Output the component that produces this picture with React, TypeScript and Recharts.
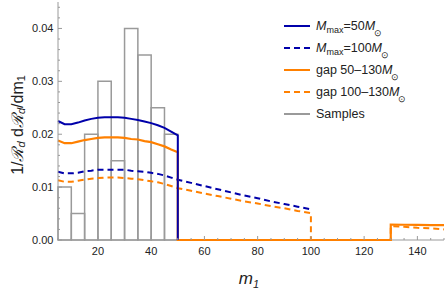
import React from 'react';
import { LineChart, Line, XAxis, YAxis, ReferenceArea, ReferenceLine, Legend } from 'recharts';

// ---- data ----
const massLow = [5, 7.5, 10, 12.5, 15, 17.5, 20, 22.5, 25, 27.5, 30, 32.5, 35, 37.5, 40, 42.5, 45, 47.5, 50];
const mmax50 = [0.0225, 0.0219, 0.0219, 0.0222, 0.0226, 0.0229, 0.0231, 0.0232, 0.0232, 0.0232, 0.0231, 0.0229, 0.0227, 0.0224, 0.0221, 0.0217, 0.0212, 0.0205, 0.0198];
const gap50130Low = [0.0188, 0.0183, 0.0183, 0.0186, 0.0189, 0.0191, 0.0193, 0.0194, 0.0194, 0.0194, 0.0193, 0.0191, 0.019, 0.0187, 0.0185, 0.0181, 0.0177, 0.0171, 0.0166];
const mmax100Low = [0.0129, 0.0126, 0.0126, 0.0127, 0.013, 0.0131, 0.0133, 0.0133, 0.0133, 0.0133, 0.0133, 0.0131, 0.013, 0.0129, 0.0127, 0.0125, 0.0122, 0.0118, 0.0114];
const gap100130Low = [0.0113, 0.011, 0.011, 0.0112, 0.0114, 0.0116, 0.0117, 0.0118, 0.0118, 0.0118, 0.0117, 0.0116, 0.0115, 0.0113, 0.0111, 0.0109, 0.0106, 0.0102, 0.0098];
const massMid = [55, 60, 65, 70, 75, 80, 85, 90, 95, 100];
const mmax100Mid = [0.0108, 0.0102, 0.0096, 0.009, 0.0084, 0.0079, 0.0073, 0.0068, 0.0063, 0.0058];
const gap100130Mid = [0.0093, 0.0088, 0.0083, 0.0078, 0.0073, 0.0069, 0.0064, 0.006, 0.0055, 0.0051];
const massHigh = [130, 135, 140, 145, 150];
const gap50130High = [0.0029, 0.00288, 0.00285, 0.00282, 0.0028];
const gap100130High = [0.0026, 0.0025, 0.0023, 0.0022, 0.002];
const cutMmax50 = 50;
const gapLow1 = 50;
const gapLow2 = 100;
const gapHigh = 130;
const binEdges = [5, 10, 15, 20, 25, 30, 35, 40, 45, 50];
const binHeights = [0.01, 0.005, 0.02, 0.03, 0.015, 0.04, 0.035, 0.025, 0.02];
const xTicks = [5, 10, 15, 20, 25, 30, 35, 40, 45, 50, 55, 60, 65, 70, 75, 80, 85, 90, 95, 100, 105, 110, 115, 120, 125, 130, 135, 140, 145, 150];
const yTicks = [0, 0.002, 0.004, 0.006, 0.008, 0.01, 0.012, 0.014, 0.016, 0.018, 0.02, 0.022, 0.024, 0.026, 0.028, 0.03, 0.032, 0.034, 0.036, 0.038, 0.04, 0.042, 0.044];

const pts = (ms: number[], vs: number[]) => ms.map((m, i) => ({ m, v: vs[i] }));

const sMmax50 = [...pts(massLow, mmax50), { m: cutMmax50, v: 0 }];
const sMmax100 = [...pts(massLow, mmax100Low), ...pts(massMid, mmax100Mid)];
const sGap50 = [...pts(massLow, gap50130Low), { m: gapLow1, v: 0 }, { m: gapHigh, v: 0 }, ...pts(massHigh, gap50130High)];
const sGap100 = [...pts(massLow, gap100130Low), ...pts(massMid, gap100130Mid), { m: gapLow2, v: 0 }, { m: gapHigh, v: 0 }, ...pts(massHigh, gap100130High)];

const BLUE = '#0000aa';
const ORANGE = '#ff8000';
const GRAY = '#9a9a9a';
const FRAME = '#9a9a9a';
const FONT = 'Liberation Sans, Arial, sans-serif';
const TEXT = '#222';

const isMajorX = (v: number) => v % 20 === 0;
const isMajorY = (v: number) => Math.abs(v * 100 - Math.round(v * 100)) < 1e-6;

const BottomTick = (p: any) => {
  const v = p.payload.value;
  const major = isMajorX(v);
  return (
    <g>
      <line x1={p.x} x2={p.x} y1={p.y} y2={p.y - (major ? 4 : 2)} stroke={FRAME} />
      {major && (
        <text x={p.x} y={p.y + 15} textAnchor="middle" fontSize={11} fontFamily={FONT} fill={TEXT}>
          {v}
        </text>
      )}
    </g>
  );
};
const TopTick = (p: any) => {
  const major = isMajorX(p.payload.value);
  return <line x1={p.x} x2={p.x} y1={p.y} y2={p.y + (major ? 4 : 2)} stroke={FRAME} />;
};
const LeftTick = (p: any) => {
  const v = p.payload.value;
  const major = isMajorY(v);
  return (
    <g>
      <line x1={p.x} x2={p.x + (major ? 4 : 2)} y1={p.y} y2={p.y} stroke={FRAME} />
      {major && (
        <text x={p.x - 4.5} y={p.y + 4} textAnchor="end" fontSize={11} fontFamily={FONT} fill={TEXT}>
          {v.toFixed(2)}
        </text>
      )}
    </g>
  );
};
const RightTick = (p: any) => {
  const major = isMajorY(p.payload.value);
  return <line x1={p.x} x2={p.x - (major ? 4 : 2)} y1={p.y} y2={p.y} stroke={FRAME} />;
};

const YLabel = (props: any) => {
  const vb = props.viewBox || {};
  const cx = 17;
  const cy = (vb.y ?? 0) + (vb.height ?? 0) / 2 + 4;
  return (
    <text
      x={cx}
      y={cy}
      transform={`rotate(-90, ${cx}, ${cy})`}
      textAnchor="middle"
      fontSize={16}
      fontFamily={FONT}
      fill={TEXT}
      dominantBaseline="central"
    >
      <tspan>1/</tspan>
      <tspan fontStyle="italic">ℛ</tspan>
      <tspan fontStyle="italic" fontSize={11} dy={4}>d</tspan>
      <tspan dy={-4}> d</tspan>
      <tspan fontStyle="italic">ℛ</tspan>
      <tspan fontStyle="italic" fontSize={11} dy={4}>d</tspan>
      <tspan dy={-4}>/dm</tspan>
      <tspan fontSize={11} dy={4}>1</tspan>
    </text>
  );
};

const XLabel = (props: any) => {
  const vb = props.viewBox || {};
  const cx = (vb.x ?? 0) + (vb.width ?? 0) / 2 - 2;
  return (
    <text x={cx} y={284} textAnchor="middle" fontSize={17} fontFamily={FONT} fill={TEXT} fontStyle="italic">
      <tspan>m</tspan>
      <tspan fontSize={11} dy={4}>1</tspan>
    </text>
  );
};

const Sun = () => (
  <span style={{ fontSize: 9, position: 'relative', top: 6, marginLeft: -1 }}>⊙</span>
);
const MmaxLabel = ({ n }: { n: number }) => (
  <span>
    <i>M</i>
    <span style={{ fontSize: 9, position: 'relative', top: 3 }}>max</span>={n}
    <i>M</i>
    <Sun />
  </span>
);
const GapLabel = ({ a, b }: { a: number; b: number }) => (
  <span>
    gap {a}–{b}
    <i>M</i>
    <Sun />
  </span>
);

const legendItems = [
  { key: 'a', color: BLUE, dash: false, label: <MmaxLabel n={50} /> },
  { key: 'b', color: BLUE, dash: true, label: <MmaxLabel n={100} /> },
  { key: 'c', color: ORANGE, dash: false, label: <GapLabel a={50} b={130} /> },
  { key: 'd', color: ORANGE, dash: true, label: <GapLabel a={100} b={130} /> },
  { key: 'e', color: GRAY, dash: false, label: <span>Samples</span> },
];

const LegendBox = () => (
  <div style={{ fontFamily: FONT, fontSize: 12.5, color: TEXT }}>
    {legendItems.map((it) => (
      <div key={it.key} style={{ display: 'flex', alignItems: 'center', height: 22, whiteSpace: 'nowrap' }}>
        <svg width={26} height={8} style={{ display: 'block' }}>
          <line x1={0} x2={26} y1={4} y2={4} stroke={it.color} strokeWidth={2} strokeDasharray={it.dash ? '6 4' : undefined} />
        </svg>
        <span style={{ marginLeft: 6, lineHeight: '14px' }}>{it.label}</span>
      </div>
    ))}
  </div>
);

export default function App() {
  return (
    <div style={{ position: 'absolute', left: 0, top: 0, width: 445, height: 290, background: '#fff' }}>
      <LineChart width={445} height={290} margin={{ top: 2, right: 1, bottom: 0, left: 0 }}>
        <XAxis
          dataKey="m"
          type="number"
          domain={[5, 150]}
          ticks={xTicks}
          interval={0}
          height={50}
          tickSize={0}
          tickMargin={0}
          tickLine={false}
          axisLine={false}
          tick={<BottomTick />}
          label={<XLabel />}
        />
        <XAxis
          xAxisId="top"
          orientation="top"
          type="number"
          domain={[5, 150]}
          ticks={xTicks}
          interval={0}
          height={0}
          tickSize={0}
          tickMargin={0}
          tickLine={false}
          axisLine={{ stroke: FRAME }}
          tick={<TopTick />}
        />
        <YAxis
          type="number"
          domain={[0, 0.045]}
          ticks={yTicks}
          interval={0}
          width={58}
          tickSize={0}
          tickMargin={0}
          tickLine={false}
          axisLine={{ stroke: FRAME }}
          tick={<LeftTick />}
          label={<YLabel />}
        />
        <YAxis
          yAxisId="right"
          orientation="right"
          type="number"
          domain={[0, 0.045]}
          ticks={yTicks}
          interval={0}
          width={0}
          tickSize={0}
          tickMargin={0}
          tickLine={false}
          axisLine={{ stroke: FRAME }}
          tick={<RightTick />}
        />
        <ReferenceLine y={0} stroke={FRAME} strokeWidth={1} />
        {binHeights.map((h, i) => (
          <ReferenceArea
            key={i}
            x1={binEdges[i]}
            x2={binEdges[i + 1]}
            y1={0}
            y2={h}
            fill="none"
            fillOpacity={0}
            stroke={GRAY}
            strokeWidth={1.5}
            strokeOpacity={1}
          />
        ))}
        <Legend
          layout="vertical"
          align="center"
          verticalAlign="middle"
          wrapperStyle={{ top: 15, left: 284, width: 160 }}
          content={<LegendBox />}
        />
        <Line data={sMmax100} dataKey="v" type="linear" stroke={BLUE} strokeWidth={2} strokeDasharray="6 4" dot={false} isAnimationActive={false} />
        <Line data={sGap100} dataKey="v" type="linear" stroke={ORANGE} strokeWidth={2} strokeDasharray="6 4" dot={false} isAnimationActive={false} />
        <Line data={sGap50} dataKey="v" type="linear" stroke={ORANGE} strokeWidth={2.2} dot={false} isAnimationActive={false} />
        <Line data={sMmax50} dataKey="v" type="linear" stroke={BLUE} strokeWidth={2} dot={false} isAnimationActive={false} />
      </LineChart>
    </div>
  );
}
